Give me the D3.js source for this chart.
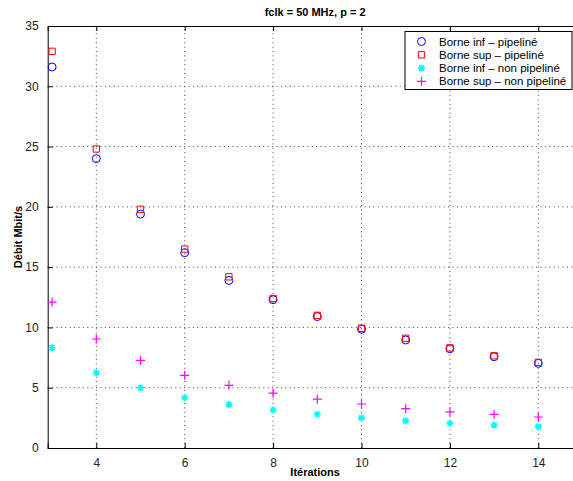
<!DOCTYPE html>
<html>
<head>
<meta charset="utf-8">
<script src="https://cdnjs.cloudflare.com/ajax/libs/d3/7.8.5/d3.min.js"></script>
<style>
  html, body { margin: 0; background: #fff; overflow: hidden; }
  svg { display: block; }
  text { font-family: "Liberation Sans", Arial, sans-serif; }
</style>
</head>
<body>
<div id="chart"></div>
<script>
// data
var iterations = [3, 4, 5, 6, 7, 8, 9, 10, 11, 12, 13, 14];
var infPipe = [31.6, 24.0, 19.4, 16.2, 13.9, 12.3, 10.9, 9.85, 8.96, 8.23, 7.57, 7.02];
var supPipe = [32.9, 24.8, 19.8, 16.5, 14.2, 12.4, 11.0, 9.93, 9.1, 8.3, 7.65, 7.1];
var infNonPipe = [8.32, 6.25, 5.0, 4.17, 3.6, 3.15, 2.8, 2.5, 2.27, 2.05, 1.9, 1.77];
var supNonPipe = [12.1, 9.04, 7.27, 6.03, 5.2, 4.55, 4.05, 3.65, 3.26, 2.99, 2.79, 2.57];
var xTicks = [4, 6, 8, 10, 12, 14];
var yTicks = [0, 5, 10, 15, 20, 25, 30, 35];
var seriesNames = ["Borne inf \u2013 pipelin\u00e9", "Borne sup \u2013 pipelin\u00e9",
                   "Borne inf \u2013 non pipelin\u00e9", "Borne sup \u2013 non pipelin\u00e9"];

var svgWidth = 573, svgHeight = 481;
var margin = { top: 26, left: 47.7, bottom: 33 };
var plotRight = 582.5;
var height = svgHeight - margin.top - margin.bottom;

var svg = d3.select("#chart").append("svg")
  .attr("width", svgWidth)
  .attr("height", svgHeight)
  .style("overflow", "hidden");

var x = d3.scaleLinear().domain([2.9, 15]).range([margin.left, plotRight]);
var y = d3.scaleLinear().domain([0, 35]).range([margin.top + height, margin.top]);

var g = svg.append("g");

// dotted grid
g.selectAll(".gx").data(xTicks).enter().append("line")
  .attr("x1", d => x(d)).attr("x2", d => x(d))
  .attr("y1", y(0)).attr("y2", y(35))
  .attr("stroke", "#444").attr("stroke-width", 1)
  .attr("stroke-dasharray", "1,3.4");
g.selectAll(".gy").data(yTicks.slice(1, -1)).enter().append("line")
  .attr("x1", x(2.9)).attr("x2", svgWidth)
  .attr("y1", d => y(d)).attr("y2", d => y(d))
  .attr("stroke", "#444").attr("stroke-width", 1)
  .attr("stroke-dasharray", "1,3.4");

// axes (ticks inside, like matlab)
var bottomAxis = d3.axisBottom(x).tickValues(xTicks).tickSize(-5).tickPadding(10);
var topAxis = d3.axisTop(x).tickValues(xTicks).tickSize(-5).tickFormat("");
var leftAxis = d3.axisLeft(y).tickValues(yTicks).tickSize(-5).tickPadding(9);

function styleAxis(sel) {
  sel.select(".domain").attr("stroke", "#000");
  sel.selectAll(".tick line").attr("stroke", "#000");
  sel.selectAll("text").attr("font-size", 12).attr("fill", "#222")
    .attr("font-family", "Liberation Sans, Arial, sans-serif");
}
svg.append("g").attr("transform", `translate(0,${y(0)})`).call(bottomAxis).call(styleAxis);
svg.append("g").attr("transform", `translate(0,${y(35)})`).call(topAxis).call(styleAxis);
svg.append("g").attr("transform", `translate(${margin.left},0)`).call(leftAxis).call(styleAxis);

// markers
var circleSym = d3.symbol().type(d3.symbolCircle).size(50);
var squareSym = d3.symbol().type(d3.symbolSquare).size(40);
var plusPath = "M-4.5,0H4.5M0,-4.5V4.5";
var starPath = "M-3.5,0H3.5M0,-3.5V3.5M-2.5,-2.5L2.5,2.5M-2.5,2.5L2.5,-2.5";

function drawMarker(sel, type) {
  if (type === 0) sel.append("path").attr("d", circleSym()).attr("fill", "none").attr("stroke", "#0000ff");
  else if (type === 1) sel.append("path").attr("d", squareSym()).attr("fill", "none").attr("stroke", "#ff0000");
  else if (type === 2) sel.append("path").attr("d", starPath).attr("fill", "none").attr("stroke", "#00ffff").attr("stroke-width", 1.6);
  else sel.append("path").attr("d", plusPath).attr("fill", "none").attr("stroke", "#ff00ff").attr("stroke-width", 1.2);
}

var allSeries = [infPipe, supPipe, infNonPipe, supNonPipe];
allSeries.forEach(function(vals, si) {
  vals.forEach(function(v, i) {
    var m = svg.append("g").attr("transform", `translate(${x(iterations[i])},${y(v)})`);
    drawMarker(m, si);
  });
});

// title and labels
svg.append("text").attr("x", (margin.left + plotRight) / 2).attr("y", 16)
  .attr("text-anchor", "middle").attr("font-size", 11).attr("font-weight", "bold")
  .text("fclk = 50 MHz, p = 2");
svg.append("text").attr("x", (margin.left + plotRight) / 2).attr("y", 476)
  .attr("text-anchor", "middle").attr("font-size", 11).attr("font-weight", "bold")
  .text("Itérations");
svg.append("text").attr("transform", `translate(22,${(y(0) + y(35)) / 2}) rotate(-90)`)
  .attr("text-anchor", "middle").attr("font-size", 11).attr("font-weight", "bold")
  .text("Débit Mbit/s");

// legend
var legend = svg.append("g").attr("transform", "translate(405,31.5)");
legend.append("rect").attr("x", 0).attr("y", 0).attr("width", 167).attr("height", 58)
  .attr("fill", "#fff").attr("stroke", "#000");
seriesNames.forEach(function(name, i) {
  var row = legend.append("g").attr("transform", `translate(0,${10 + i * 13.3})`);
  drawMarker(row.append("g").attr("transform", "translate(16.5,0)"), i);
  row.append("text").attr("x", 34).attr("y", 4).attr("font-size", 11.5).text(name);
});
</script>
</body>
</html>
